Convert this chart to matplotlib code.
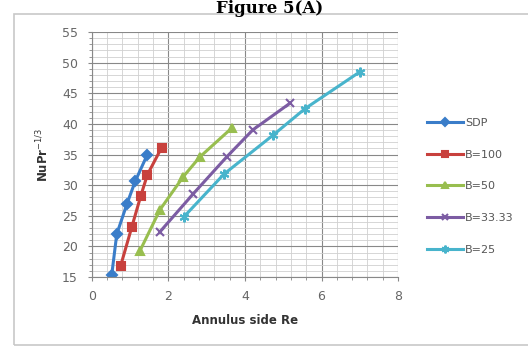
import matplotlib.pyplot as plt
from matplotlib.patches import Rectangle
from matplotlib.ticker import MultipleLocator

# values
sdp_re = [0.52, 0.65, 0.92, 1.13, 1.45]
sdp_nu = [15.4, 22.0, 27.0, 30.6, 35.0]

b100_re = [0.75, 1.04, 1.28, 1.45, 1.82]
b100_nu = [16.8, 23.1, 28.3, 31.7, 36.1]

b50_re = [1.25, 1.78, 2.39, 2.82, 3.65]
b50_nu = [19.2, 26.0, 31.4, 34.6, 39.3]

b33_re = [1.78, 2.65, 3.52, 4.2, 5.18]
b33_nu = [22.4, 28.6, 34.6, 39.0, 43.4]

b25_re = [2.4, 3.45, 4.74, 5.57, 7.0]
b25_nu = [24.8, 31.8, 38.2, 42.5, 48.5]

series = [
    ("SDP", sdp_re, sdp_nu, "#3A7DC9", "D", 5),
    ("B=100", b100_re, b100_nu, "#C8413D", "s", 6),
    ("B=50", b50_re, b50_nu, "#98BE4F", "^", 6),
    ("B=33.33", b33_re, b33_nu, "#7C5CA3", "x", 6),
    ("B=25", b25_re, b25_nu, "#48B4CC", (6, 2, 0), 7),
]

fig = plt.figure(figsize=(5.28, 3.52), dpi=100)
ax = fig.add_axes([0.174, 0.213, 0.580, 0.696])

# outer chart border
fig.patches.append(Rectangle((0.027, 0.02), 1.0, 0.94, transform=fig.transFigure,
                             fill=False, edgecolor="#c8c8c8", linewidth=1.2))

for name, x, y, col, mk, ms in series:
    ax.plot(x, y, color=col, linewidth=2.2, marker=mk, markersize=ms,
            markeredgecolor=col, markerfacecolor=col, markeredgewidth=1.5,
            label=name)

ax.set_xlim(0, 8)
ax.set_ylim(15, 55)
ax.xaxis.set_major_locator(MultipleLocator(2))
ax.xaxis.set_minor_locator(MultipleLocator(0.4))
ax.yaxis.set_major_locator(MultipleLocator(5))
ax.yaxis.set_minor_locator(MultipleLocator(1))
ax.grid(which="major", color="#888888", linewidth=0.8)
ax.grid(which="minor", color="#d0d0d0", linewidth=0.6)
ax.set_axisbelow(True)

for s in ["top", "right"]:
    ax.spines[s].set_visible(False)
for s in ["left", "bottom"]:
    ax.spines[s].set_color("#888888")

ax.tick_params(which="both", colors="#888888", labelcolor="#666666",
               labelsize=9, length=3)
ax.tick_params(which="minor", length=2)
ax.tick_params(axis="x", pad=6)
ax.tick_params(axis="y", pad=7)

ax.set_xlabel("Annulus side Re", fontsize=8.5, fontweight="bold",
              color="#333333", labelpad=8)
ax.set_ylabel(r"NuPr$^{-1/3}$", fontsize=8.5, fontweight="bold",
              color="#333333", labelpad=8)

ax.legend(loc="center left", bbox_to_anchor=(1.062, 0.37), frameon=False,
          fontsize=8, labelspacing=1.95, handlelength=3.2, handletextpad=0.2,
          markerscale=0.8, labelcolor="#555555")

fig.text(0.51, 1.0, "Figure 5(A)", ha="center", va="top",
         fontsize=12, fontweight="bold", family="DejaVu Serif")

fig.savefig("out.png", dpi=100)
